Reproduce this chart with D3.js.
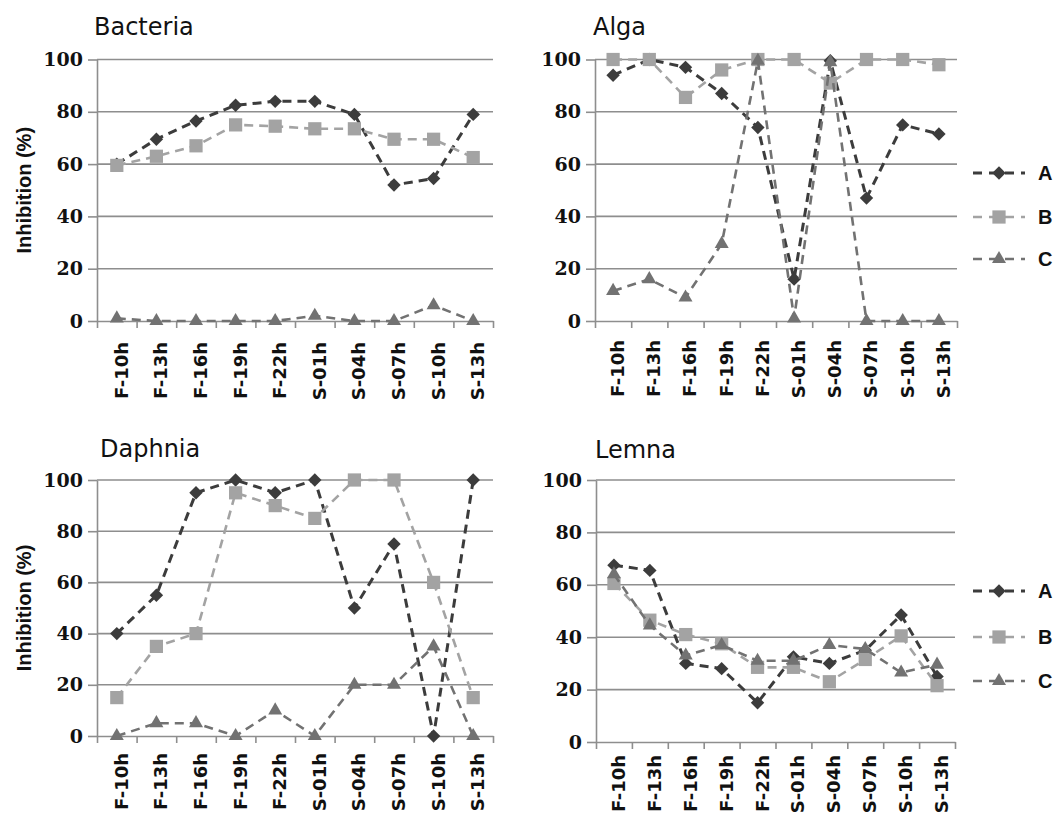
<!DOCTYPE html>
<html><head><meta charset="utf-8">
<script src="https://cdn.jsdelivr.net/npm/d3@7"></script>
<style>
html,body{margin:0;padding:0;background:#fff;}
svg{display:block;}
</style></head>
<body>
<svg id="chart" width="1056" height="816"></svg>
<script>
const categories = ["F-10h","F-13h","F-16h","F-19h","F-22h","S-01h","S-04h","S-07h","S-10h","S-13h"];
const yTicks = [0,20,40,60,80,100];
const seriesNames = ["A","B","C"];
const panelTitles = ["Bacteria","Alga","Daphnia","Lemna"];
const yLabel = "Inhibition (%)";

const bacteriaA = [60,69.5,76.5,82.5,84,84,79,52,54.5,79];
const bacteriaB = [59.5,63,67,75,74.5,73.5,73.5,69.5,69.5,62.5];
const bacteriaC = [1,0,0,0,0,2,0,0,6,0];

const algaA = [94,100,97,87,74,16,99.5,47,75,71.5];
const algaB = [100,100,85.5,96,100,100,91,100,100,98];
const algaC = [11.5,16,9,29.5,99.5,1,99,0,0,0];

const daphniaA = [40,55,95,100,95,100,50,75,0,100];
const daphniaB = [15,35,40,95,90,85,100,100,60,15];
const daphniaC = [0,5,5,0,10,0,20,20,35,0];

const lemnaA = [67.5,65.5,30,28,15,32.5,30,35,48.5,25];
const lemnaB = [60.5,46.5,41,37.5,28.5,28.5,23,31.5,40.5,21.5];
const lemnaC = [64,44.5,33,37,31,31,37,35.5,26.5,29.5];

const panelData = [
  [bacteriaA,bacteriaB,bacteriaC],
  [algaA,algaB,algaC],
  [daphniaA,daphniaB,daphniaC],
  [lemnaA,lemnaB,lemnaC]
];

// layout
const layouts = [
  {l:97, r:493, t:59.5, b:321, tx:94, ty:35, lo:21, ylab:true, legend:false},
  {l:595, r:957, t:59.5, b:321, tx:593, ty:35, lo:19, ylab:false, legend:true, legY:[173,217,259]},
  {l:97, r:493, t:480, b:736, tx:100, ty:457, lo:17, ylab:true, legend:false},
  {l:596, r:955, t:480, b:742, tx:595, ty:458, lo:13, ylab:false, legend:true, legY:[591,637,681]}
];
const styles = [
  {color:"#3c3c3c", width:3, dash:"9,6", symbol:"diamond"},
  {color:"#a3a3a3", width:2.6, dash:"9,6", symbol:"square"},
  {color:"#727272", width:2.6, dash:"9,6", symbol:"triangle"}
];
const gridColor = "#8e8e8e";

const svg = d3.select("#chart");

function drawMarker(g, type, color, x, y){
  if(type==="diamond"){
    g.append("path").attr("d", d3.symbol(d3.symbolSquare, 90)())
      .attr("transform",`translate(${x},${y}) rotate(45)`).attr("fill",color);
  } else if(type==="square"){
    g.append("path").attr("d", d3.symbol(d3.symbolSquare, 175)())
      .attr("transform",`translate(${x},${y})`).attr("fill",color);
  } else {
    g.append("path").attr("d", d3.symbol(d3.symbolTriangle, 85)())
      .attr("transform",`translate(${x},${y})`).attr("fill",color);
  }
}

panelData.forEach((series, pi) => {
  const L = layouts[pi];
  const g = svg.append("g");
  const x = d3.scaleBand().domain(categories).range([L.l, L.r]).padding(0);
  const xi = d3.scaleLinear().domain([0, categories.length]).range([L.l, L.r]);
  const y = d3.scaleLinear().domain([0,100]).range([L.b, L.t]);
  const cx = c => x(c) + x.bandwidth()/2;

  // title
  g.append("text").attr("x", L.tx).attr("y", L.ty)
    .attr("font-family","DejaVu Sans").attr("font-size",24).attr("fill","#111")
    .text(panelTitles[pi]);

  // gridlines
  g.append("g").selectAll("line").data(yTicks.filter(v=>v>0)).join("line")
    .attr("x1", L.l).attr("x2", L.r).attr("y1", d=>y(d)).attr("y2", d=>y(d))
    .attr("stroke", gridColor).attr("stroke-width", 1.6);

  // y axis
  const ya = g.append("g").attr("transform",`translate(${L.l},0)`)
    .call(d3.axisLeft(y).tickValues(yTicks).tickSize(9).tickSizeOuter(0).tickPadding(5));
  ya.select(".domain").attr("stroke", gridColor).attr("stroke-width",1.6);
  ya.selectAll(".tick line").attr("stroke", gridColor).attr("stroke-width",1.6);
  ya.selectAll(".tick text").attr("font-family","DejaVu Serif").attr("font-weight","bold")
    .attr("font-size",19).attr("fill","#111");

  // x axis (tick marks at band boundaries)
  const xa = g.append("g").attr("transform",`translate(0,${L.b})`)
    .call(d3.axisBottom(xi).tickValues(d3.range(categories.length+1)).tickSize(7).tickSizeOuter(0).tickFormat(""));
  xa.select(".domain").attr("stroke", gridColor).attr("stroke-width",1.6);
  xa.selectAll(".tick line").attr("stroke", gridColor).attr("stroke-width",1.6);

  // x labels
  const xl = g.append("g").attr("transform",`translate(0,${L.b})`)
    .call(d3.axisBottom(x).tickSize(0).tickPadding(0));
  xl.select(".domain").remove();
  xl.selectAll(".tick text")
    .attr("font-family","DejaVu Sans").attr("font-weight","bold").attr("font-size",18).attr("fill","#111")
    .attr("text-anchor","end").attr("dy","0.36em").attr("y",0).attr("x",0)
    .attr("transform",`translate(4.5,${L.lo}) rotate(-90)`);

  // y label
  if(L.ylab){
    g.append("text").attr("transform",`translate(31,${(L.t+L.b)/2}) rotate(-90)`)
      .attr("text-anchor","middle").attr("font-family","Liberation Sans").attr("font-weight","bold")
      .attr("font-size",20).attr("fill","#111").text(yLabel);
  }

  // series
  series.forEach((vals, si) => {
    const st = styles[si];
    const pts = categories.map((c,i)=>[cx(c), y(vals[i])]);
    g.append("path").attr("d", d3.line()(pts)).attr("fill","none")
      .attr("stroke", st.color).attr("stroke-width", st.width).attr("stroke-dasharray", st.dash);
    const mg = g.append("g");
    pts.forEach(p => drawMarker(mg, st.symbol, st.color, p[0], p[1]));
  });

  // legend
  if(L.legend){
    seriesNames.forEach((name, si) => {
      const st = styles[si];
      const ly = L.legY[si];
      g.append("line").attr("x1", 973).attr("x2", 1025).attr("y1", ly).attr("y2", ly)
        .attr("stroke", st.color).attr("stroke-width", st.width).attr("stroke-dasharray","9,7");
      drawMarker(g, st.symbol, st.color, 999, ly);
      g.append("text").attr("x", 1038).attr("y", ly).attr("dy","0.36em")
        .attr("font-family","Liberation Sans").attr("font-weight","bold").attr("font-size",20)
        .attr("fill","#111").text(name);
    });
  }
});
</script>
</body></html>
